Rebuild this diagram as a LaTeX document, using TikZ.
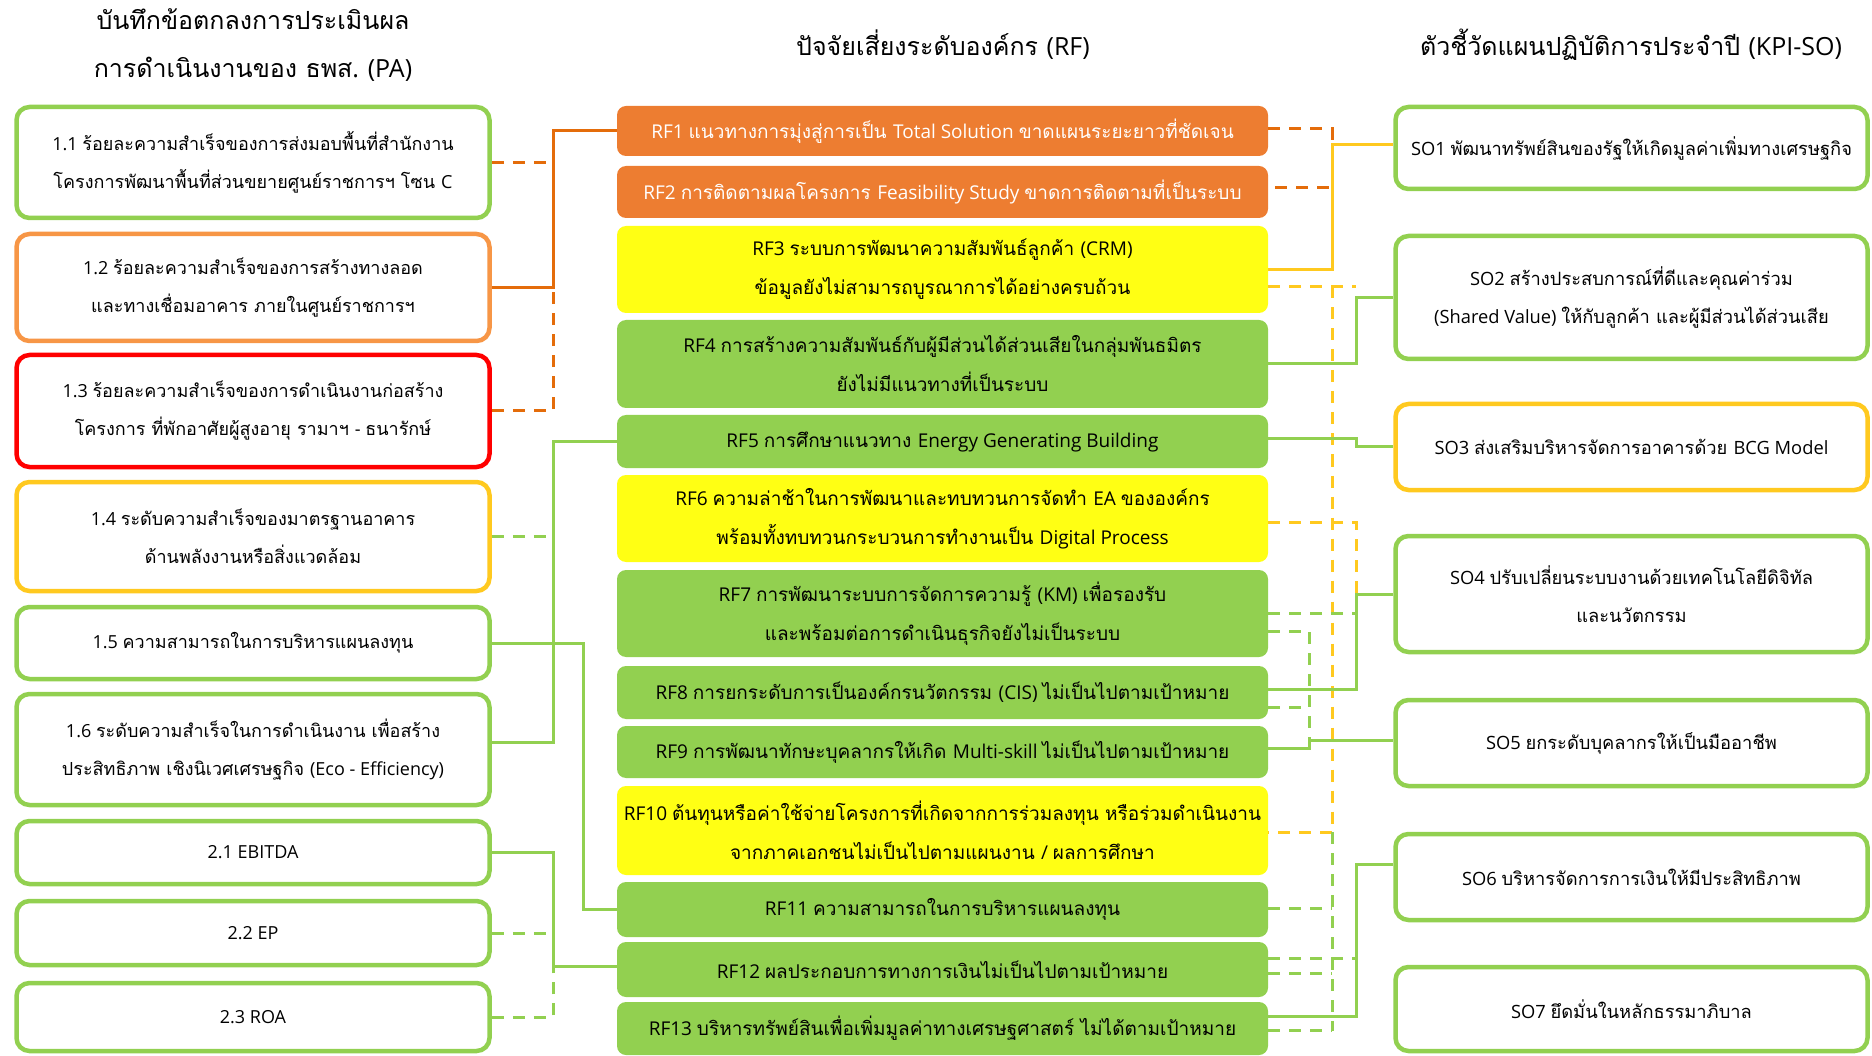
\documentclass[tikz,border=0pt]{standalone}
\usepackage{fontspec}
\setmainfont[Script=Thai]{Loma}
\newfontfamily\thaifnt[Script=Thai]{Loma}
\newfontfamily\latfnt{Open Sans}
\XeTeXinterchartokenstate=1
\newXeTeXintercharclass\thaicls
\count255="0E00
\loop
  \XeTeXcharclass\count255=\thaicls
  \ifnum\count255<"0E7F \advance\count255 by 1
\repeat
\XeTeXinterchartoks 0 \thaicls = {\thaifnt}
\XeTeXinterchartoks 4095 \thaicls = {\thaifnt}
\XeTeXinterchartoks \thaicls 0 = {\latfnt}
\XeTeXinterchartoks 4095 0 = {\latfnt}
\usetikzlibrary{calc}
\definecolor{cgreen}{HTML}{92D050}
\definecolor{corange}{HTML}{ED7D31}
\definecolor{clorange}{HTML}{F79646}
\definecolor{cdorange}{HTML}{E46C0A}
\definecolor{cyellow}{HTML}{FFFF14}
\definecolor{cgold}{HTML}{FFC91F}
\definecolor{cred}{HTML}{FF0000}
\tikzset{
  txt/.style={align=center, inner sep=0pt},
  pabox/.style={txt, font=\fontsize{18}{38}\selectfont, draw=#1, line width=4.5pt, rounded corners=13pt, fill=white, minimum width=473pt},
  rfbox/.style={txt, font=\fontsize{19}{39}\selectfont, fill=#1, rounded corners=9pt, minimum width=651pt},
  sobox/.style={txt, font=\fontsize{18.3}{38}\selectfont, draw=#1, line width=4.5pt, rounded corners=13pt, fill=white, minimum width=472pt},
  ttl/.style={font=\fontsize{25}{48}\selectfont, align=center, inner sep=0pt},
  con/.style={line width=3pt},
  dsh/.style={line width=3pt, dash pattern=on 12pt off 9pt},
}
\begin{document}
\begin{tikzpicture}[x=1pt,y=-1pt]
\useasboundingbox (0,0) rectangle (1872,1056);
% titles
\node[ttl] (t1) at (253,45) {บันทึกข้อตกลงการประเมินผล\\การดำเนินงานของ ธพส. (PA)};
\node[ttl] (t2) at (943,45) {ปัจจัยเสี่ยงระดับองค์กร (RF)};
\node[ttl] (t3) at (1631,45) {ตัวชี้วัดแผนปฏิบัติการประจำปี (KPI-SO)};
% left boxes
\node[pabox=cgreen, minimum height=111pt] (L11) at (253,162.5) {1.1 ร้อยละความสำเร็จของการส่งมอบพื้นที่สำนักงาน\\โครงการพัฒนาพื้นที่ส่วนขยายศูนย์ราชการฯ โซน C};
\node[pabox=clorange, minimum height=107pt] (L12) at (253,287.5) {1.2 ร้อยละความสำเร็จของการสร้างทางลอด\\และทางเชื่อมอาคาร ภายในศูนย์ราชการฯ};
\node[pabox=cred, minimum height=112pt] (L13) at (253,411) {1.3 ร้อยละความสำเร็จของการดำเนินงานก่อสร้าง\\โครงการ ที่พักอาศัยผู้สูงอายุ รามาฯ - ธนารักษ์};
\node[pabox=cgold, minimum height=109pt] (L14) at (253,536.5) {1.4 ระดับความสำเร็จของมาตรฐานอาคาร\\ด้านพลังงานหรือสิ่งแวดล้อม};
\node[pabox=cgreen, minimum height=72pt] (L15) at (253,643) {1.5 ความสามารถในการบริหารแผนลงทุน};
\node[pabox=cgreen, minimum height=111pt] (L16) at (253,749.5) {1.6 ระดับความสำเร็จในการดำเนินงาน เพื่อสร้าง\\ประสิทธิภาพ เชิงนิเวศเศรษฐกิจ (Eco - Efficiency)};
\node[pabox=cgreen, minimum height=63pt] (L21) at (253,852.5) {2.1 EBITDA};
\node[pabox=cgreen, minimum height=64pt] (L22) at (253,933) {2.2 EP};
\node[pabox=cgreen, minimum height=68pt] (L23) at (253,1017) {2.3 ROA};
% middle boxes
\node[rfbox=corange, text=white, minimum height=50pt] (RF1) at (942.5,131) {RF1 แนวทางการมุ่งสู่การเป็น Total Solution ขาดแผนระยะยาวที่ชัดเจน};
\node[rfbox=corange, text=white, minimum height=52pt] (RF2) at (942.5,192) {RF2 การติดตามผลโครงการ Feasibility Study ขาดการติดตามที่เป็นระบบ};
\node[rfbox=cyellow, minimum height=87pt] (RF3) at (942.5,269.5) {RF3 ระบบการพัฒนาความสัมพันธ์ลูกค้า (CRM)\\ข้อมูลยังไม่สามารถบูรณาการได้อย่างครบถ้วน};
\node[rfbox=cgreen, minimum height=88pt] (RF4) at (942.5,364) {RF4 การสร้างความสัมพันธ์กับผู้มีส่วนได้ส่วนเสียในกลุ่มพันธมิตร\\ยังไม่มีแนวทางที่เป็นระบบ};
\node[rfbox=cgreen, minimum height=53pt] (RF5) at (942.5,441.5) {RF5 การศึกษาแนวทาง Energy Generating Building};
\node[rfbox=cyellow, minimum height=87pt] (RF6) at (942.5,518.5) {RF6 ความล่าช้าในการพัฒนาและทบทวนการจัดทำ EA ขององค์กร\\พร้อมทั้งทบทวนกระบวนการทำงานเป็น Digital Process};
\node[rfbox=cgreen, minimum height=87pt] (RF7) at (942.5,613.5) {RF7 การพัฒนาระบบการจัดการความรู้ (KM) เพื่อรองรับ\\และพร้อมต่อการดำเนินธุรกิจยังไม่เป็นระบบ};
\node[rfbox=cgreen, minimum height=53pt] (RF8) at (942.5,692.5) {RF8 การยกระดับการเป็นองค์กรนวัตกรรม (CIS) ไม่เป็นไปตามเป้าหมาย};
\node[rfbox=cgreen, minimum height=52pt] (RF9) at (942.5,752) {RF9 การพัฒนาทักษะบุคลากรให้เกิด Multi-skill ไม่เป็นไปตามเป้าหมาย};
\node[rfbox=cyellow, minimum height=89pt] (RF10) at (942.5,830.5) {RF10 ต้นทุนหรือค่าใช้จ่ายโครงการที่เกิดจากการร่วมลงทุน หรือร่วมดำเนินงาน\\จากภาคเอกชนไม่เป็นไปตามแผนงาน / ผลการศึกษา};
\node[rfbox=cgreen, minimum height=55pt] (RF11) at (942.5,909.5) {RF11 ความสามารถในการบริหารแผนลงทุน};
\node[rfbox=cgreen, minimum height=55pt] (RF12) at (942.5,969.5) {RF12 ผลประกอบการทางการเงินไม่เป็นไปตามเป้าหมาย};
\node[rfbox=cgreen, minimum height=53pt] (RF13) at (942.5,1028.5) {RF13 บริหารทรัพย์สินเพื่อเพิ่มมูลค่าทางเศรษฐศาสตร์ ไม่ได้ตามเป้าหมาย};
% right boxes
\node[sobox=cgreen, minimum height=82pt] (SO1) at (1631.5,148) {SO1 พัฒนาทรัพย์สินของรัฐให้เกิดมูลค่าเพิ่มทางเศรษฐกิจ};
\node[sobox=cgreen, minimum height=123pt] (SO2) at (1631.5,297.5) {SO2 สร้างประสบการณ์ที่ดีและคุณค่าร่วม\\(Shared Value) ให้กับลูกค้า และผู้มีส่วนได้ส่วนเสีย};
\node[sobox=cgold, minimum height=86pt] (SO3) at (1631.5,447) {SO3 ส่งเสริมบริหารจัดการอาคารด้วย BCG Model};
\node[sobox=cgreen, minimum height=116pt] (SO4) at (1631.5,594) {SO4 ปรับเปลี่ยนระบบงานด้วยเทคโนโลยีดิจิทัล\\และนวัตกรรม};
\node[sobox=cgreen, minimum height=86pt] (SO5) at (1631.5,743) {SO5 ยกระดับบุคลากรให้เป็นมืออาชีพ};
\node[sobox=cgreen, minimum height=86pt] (SO6) at (1631.5,877) {SO6 บริหารจัดการการเงินให้มีประสิทธิภาพ};
\node[sobox=cgreen, minimum height=84pt] (SO7) at (1631.5,1009) {SO7 ยึดมั่นในหลักธรรมาภิบาล};
% spine coordinates
\coordinate (xA) at (553,0);
\coordinate (xB) at (583,0);
\coordinate (xC) at (1309,0);
\coordinate (xD) at (1332,0);
\coordinate (xE) at (1356,0);
% helper points
\coordinate (l16) at ($(L16.east)+(0,-7)$);
\coordinate (r12l) at ($(RF12.west)+(0,-3)$);
\coordinate (r1) at ($(RF1.east)+(0,-2)$);
\coordinate (r2) at ($(RF2.east)+(0,-4)$);
\coordinate (r3d) at ($(RF3.east)+(0,17)$);
\coordinate (r5) at ($(RF5.east)+(0,-3)$);
\coordinate (r6) at ($(RF6.east)+(0,3.5)$);
\coordinate (r7a) at ($(RF7.east)+(0,-0.5)$);
\coordinate (r7b) at ($(RF7.east)+(0,17.5)$);
\coordinate (r8s) at ($(RF8.east)+(0,-3.5)$);
\coordinate (r8d) at ($(RF8.east)+(0,14.5)$);
\coordinate (r9) at ($(RF9.east)+(0,-4)$);
\coordinate (r10) at ($(RF10.east)+(0,1.5)$);
\coordinate (r11) at ($(RF11.east)+(0,-1.5)$);
\coordinate (r12a) at ($(RF12.east)+(0,-11)$);
\coordinate (r12b) at ($(RF12.east)+(0,4)$);
\coordinate (r13s) at ($(RF13.east)+(0,-12)$);
\coordinate (r13d) at ($(RF13.east)+(0,2)$);
\coordinate (s1) at ($(SO1.west)+(0,-3)$);
\coordinate (s5) at ($(SO5.west)+(0,-3)$);
\coordinate (s6) at ($(SO6.west)+(0,-13)$);
% left connectors
\draw[dsh,cdorange] (L11.east) -- (L11.east -| xA);
\draw[dsh,cdorange] (L13.east) -- (L13.east -| xA) -- (L12.east -| xA);
\draw[con,cdorange] (L12.east) -- (L12.east -| xA) |- (RF1.west);
\draw[dsh,cgreen] (L14.east) -- (L14.east -| xA);
\draw[con,cgreen] (RF5.west) -- (RF5.west -| xA) |- (l16);
\draw[con,cgreen] (L15.east) -- (L15.east -| xB) |- (RF11.west);
\draw[dsh,cgreen] (L22.east) -- (L22.east -| xA);
\draw[dsh,cgreen] (L23.east) -- (L23.east -| xA) -- (r12l -| xA);
\draw[con,cgreen] (L21.east) -- (L21.east -| xA) |- (r12l);
% right connectors
\draw[dsh,cdorange] (r1) -- (r1 -| xD) -- (r2 -| xD) -- (r2);
\draw[dsh,cgold] (r3d) -- (r3d -| xE);
\draw[dsh,cgold] (r3d -| xD) -- (r10 -| xD) -- (r10);
\draw[dsh,cgreen] (r10 -| xD) -- (r13d -| xD);
\draw[con,cgold] (RF3.east) -- (RF3.east -| xD) |- (s1);
\draw[con,cgreen] (RF4.east) -- (RF4.east -| xE) |- (SO2.west);
\draw[con,cgreen] (r5) -- (r5 -| xE) |- (SO3.west);
\draw[dsh,cgold] (r6) -- (r6 -| xE) -- (SO4.west -| xE);
\draw[dsh,cgreen] (r7a) -- (r7a -| xE);
\draw[dsh,cgreen] (r7b) -- (r7b -| xC) -- (s5 -| xC);
\draw[dsh,cgreen] (r8d) -- (r8d -| xC);
\draw[con,cgreen] (SO4.west) -- (SO4.west -| xE) |- (r8s);
\draw[con,cgreen] (r9) -- (r9 -| xC) |- (s5);
\draw[dsh,cgreen] (r11) -- (r11 -| xD);
\draw[dsh,cgreen] (r12a) -- (r12a -| xE);
\draw[dsh,cgreen] (r12b) -- (r12b -| xD);
\draw[dsh,cgreen] (r13d) -- (r13d -| xD);
\draw[con,cgreen] (s6) -- (s6 -| xE) |- (r13s);
\end{tikzpicture}
\end{document}
